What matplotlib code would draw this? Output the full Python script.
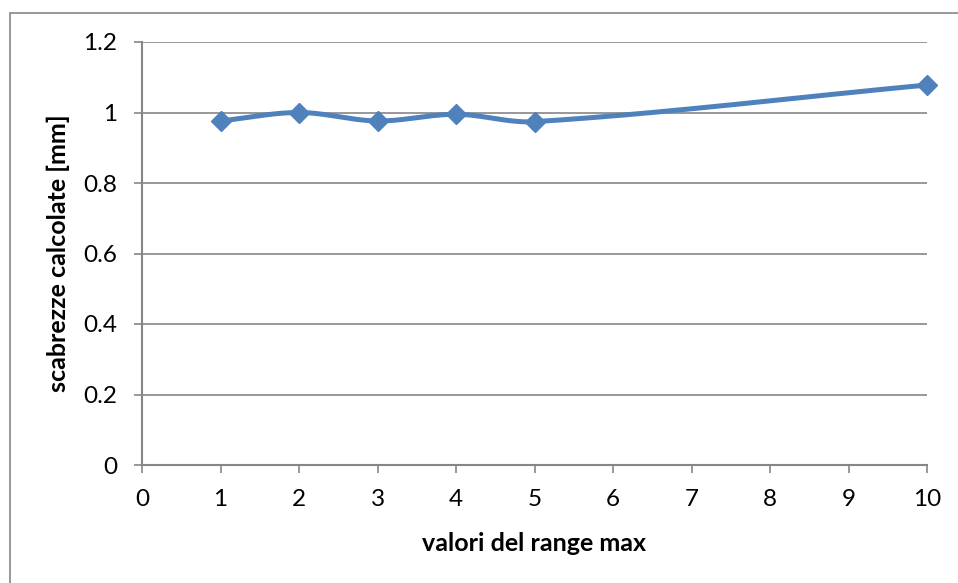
import numpy as np
import matplotlib
matplotlib.use("Agg")
import matplotlib.pyplot as plt
from matplotlib.patches import Rectangle

x_vals = [1, 2, 3, 4, 5, 10]
y_vals = [0.976, 1.000, 0.976, 0.995, 0.974, 1.078]
x_ticks = [0, 1, 2, 3, 4, 5, 6, 7, 8, 9, 10]
y_ticks = [0, 0.2, 0.4, 0.6, 0.8, 1.0, 1.2]
y_tick_labels = ["0", "0.2", "0.4", "0.6", "0.8", "1", "1.2"]
x_label = "valori del range max"
y_label = "scabrezze calcolate [mm]"

line_color = "#4F81BD"
grid_color = "#868686"

plt.rcParams['font.family'] = ['Lato', 'DejaVu Sans']

def smooth_curve(xs, ys, yscale=4.5, n=60):
    p = np.column_stack([xs, np.array(ys) * yscale]).astype(float)
    d = np.linalg.norm(np.diff(p, axis=0), axis=1)
    out = []
    for i in range(len(p) - 1):
        p1 = p[i]
        p2 = p[i + 1]
        if i > 0:
            c1 = p1 + (p2 - p[i - 1]) * d[i] / (d[i - 1] + d[i]) / 3.0
        else:
            c1 = p1 + (p2 - p1) / 3.0
        if i + 2 < len(p):
            c2 = p2 - (p[i + 2] - p1) * d[i] / (d[i] + d[i + 1]) / 3.0
        else:
            c2 = p2 - (p2 - p1) / 3.0
        t = np.linspace(0, 1, n)[:, None]
        seg = ((1 - t) ** 3) * p1 + 3 * ((1 - t) ** 2) * t * c1 + 3 * (1 - t) * t ** 2 * c2 + t ** 3 * p2
        out.append(seg if i == 0 else seg[1:])
    s = np.vstack(out)
    return s[:, 0], s[:, 1] / yscale

fig = plt.figure(figsize=(9.58, 5.83), dpi=100)
ax = fig.add_axes([142 / 958, 1 - 465 / 583, (927 - 142) / 958, (465 - 42) / 583])

# outer chart border
fig.patches.append(Rectangle((10 / 958, -0.05), 1.2, 1 - 13 / 583 + 0.05,
                             transform=fig.transFigure, fill=False,
                             edgecolor=grid_color, linewidth=1.2))

ax.set_xlim(0, 10)
ax.set_ylim(0, 1.2)
ax.set_xticks(x_ticks)
ax.set_yticks(y_ticks)
ax.set_yticklabels(y_tick_labels)
ax.grid(axis='y', color=grid_color, linewidth=1.2)
ax.set_axisbelow(True)
for s in ['top', 'right']:
    ax.spines[s].set_visible(False)
for s in ['left', 'bottom']:
    ax.spines[s].set_color(grid_color)
    ax.spines[s].set_linewidth(1.5)
ax.tick_params(axis='both', colors=grid_color, length=6, width=1.2, labelcolor='black', labelsize=17.5)
ax.tick_params(axis='x', pad=11)
ax.tick_params(axis='y', pad=12)

sx, sy = smooth_curve(x_vals, y_vals)
ax.plot(sx, sy, color=line_color, linewidth=3.6, solid_capstyle='round', clip_on=False, zorder=3)
ax.plot(x_vals, y_vals, linestyle='none', marker='D', markersize=10.5,
        color=line_color, clip_on=False, zorder=4)

ax.set_xlabel(x_label, fontsize=18, fontweight='bold', labelpad=16)
ax.set_ylabel(y_label, fontsize=18, fontweight='bold', labelpad=9)

fig.savefig("out.png", dpi=100)
